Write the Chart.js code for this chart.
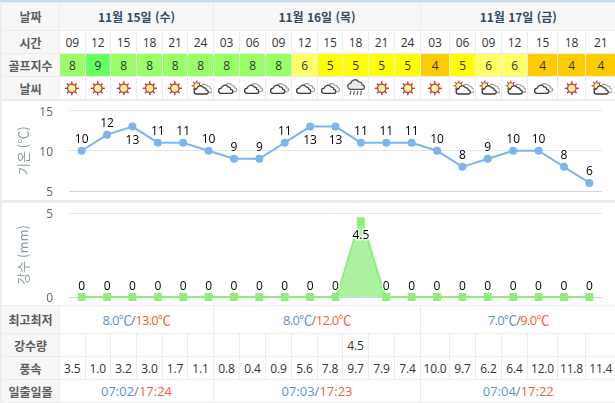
<!DOCTYPE html>
<html lang="ko">
<head>
<meta charset="utf-8">
<title>골프 날씨</title>
<script src="https://cdn.jsdelivr.net/npm/chart.js@4"></script>
<style>
  html, body { margin: 0; padding: 0; }
  body { width: 615px; height: 403px; position: relative; overflow: hidden; background: #ececec;
    font-family: "Open Sans", "Noto Sans CJK KR", sans-serif; }
  #strip { position: absolute; left: 0; top: 0; width: 615px; height: 2px; background: #c8dcee; }
  .cell { position: absolute; background: #fff; display: flex; align-items: center; justify-content: center;
    font-size: 12px; color: #333; white-space: nowrap; letter-spacing: -0.2px; }
  .head { background: #f7f7f7; color: #5c5c5c; font-weight: 700; font-family: "Noto Sans CJK KR", sans-serif; font-size: 12px; letter-spacing: 0; }
  .date { background: #f7f7f7; color: #34495e; font-weight: 700; font-family: "Noto Sans CJK KR", sans-serif; font-size: 12px; letter-spacing: 0; }
  .low { color: #5f8fdb; }
  .high { color: #f4623a; }
  .temp { font-size: 13px; letter-spacing: -0.7px; }
  .sun { font-size: 13px; letter-spacing: 0; }
  .panel { position: absolute; left: 2px; width: 613px; background: #fff; }
  canvas { position: absolute; left: 0; top: 0; }
  svg { display: block; }
</style>
</head>
<body>
<svg width="0" height="0" style="position:absolute">
  <defs>
    <g id="sunBase">
      <g stroke="#c8352b" stroke-width="1.8">
        <line x1="10" y1="1" x2="10" y2="19"/><line x1="1" y1="10" x2="19" y2="10"/>
        <line x1="3.8" y1="3.8" x2="16.2" y2="16.2"/><line x1="16.2" y1="3.8" x2="3.8" y2="16.2"/>
      </g>
      <circle cx="10" cy="10" r="5.4" fill="#fdf1a8" stroke="#c8352b" stroke-width="1.6"/>
    </g>
    <g id="sun"><g transform="translate(3,2.5) scale(.78)"><use href="#sunBase"/></g></g>
    <path id="puff" d="M4 15 a3.2 3.2 0 0 1 0-6.4 a4.6 4.6 0 0 1 8.4-1.6 a3.4 3.4 0 0 1 3.6 3.2 a2.4 2.4 0 0 1 0 4.8 z"/>
    <g id="cloud">
      <g transform="translate(2,2.5) scale(.8)">
        <use href="#puff" x="5" y="-1" fill="#fff" stroke="#999" stroke-width="1.4"/>
        <use href="#puff" x="0" y="1" fill="#fff" stroke="#3a3a3a" stroke-width="1.6"/>
      </g>
    </g>
    <g id="part">
      <g transform="translate(1,2) scale(.58)"><use href="#sunBase"/></g>
      <g transform="translate(3.5,4) scale(.8)">
        <use href="#puff" x="5" y="-2" fill="#fff" stroke="#999" stroke-width="1.4"/>
        <use href="#puff" x="0" y="0" fill="#fff" stroke="#3a3a3a" stroke-width="1.6"/>
      </g>
    </g>
    <g id="rain">
      <g transform="translate(2,0) scale(.95)">
        <use href="#puff" x="0" y="-3" fill="#e9e9e9" stroke="#555" stroke-width="1.4"/>
      </g>
      <g stroke="#666" stroke-width="1.1">
        <line x1="6" y1="13" x2="5" y2="17"/><line x1="9.5" y1="13" x2="8.5" y2="17"/>
        <line x1="13" y1="13" x2="12" y2="17"/><line x1="16.5" y1="13" x2="15.5" y2="17"/>
      </g>
    </g>
  </defs>
</svg>
<div id="strip"></div>
<div class="panel" style="top:101px;height:99px"><canvas id="tempChart"></canvas></div>
<div class="panel" style="top:203px;height:102px"><canvas id="rainChart"></canvas></div>
<script>
"use strict";

// Data ----------------------------------------------------------------------
const dayLabels = ["11월 15일 (수)", "11월 16일 (목)", "11월 17일 (금)"];
const dayLengths = [6, 8, 7];
const hours = ["09","12","15","18","21","24","03","06","09","12","15","18","21","24","03","06","09","12","15","18","21"];
const golfIndex = [8,9,8,8,8,8,8,8,8,6,5,5,5,5,4,5,6,6,4,4,4];
const weather = ["sun","sun","sun","sun","sun","part","cloud","cloud","cloud","cloud","cloud","rain","sun","sun","sun","part","part","part","cloud","sun","part"];
const temps = [10,12,13,11,11,10,9,9,11,13,13,11,11,11,10,8,9,10,10,8,6];
const rainfall = [0,0,0,0,0,0,0,0,0,0,0,4.5,0,0,0,0,0,0,0,0,0];
const windSpeed = ["3.5","1.0","3.2","3.0","1.7","1.1","0.8","0.4","0.9","5.6","7.8","9.7","7.9","7.4","10.0","9.7","6.2","6.4","12.0","11.8","11.4"];
const tempLow = ["8.0℃", "8.0℃", "7.0℃"];
const tempHigh = ["13.0℃", "12.0℃", "9.0℃"];
const sunrise = ["07:02", "07:03", "07:04"];
const sunset = ["17:24", "17:23", "17:22"];
const tempTicks = [5, 10, 15];
const rainTicks = [0, 5];

// Table layout --------------------------------------------------------------
const colEdges = [59,84.5,110,136,162,187,213,239,265,291,317,342,368,394,420,449,475,501,527,557,585,615.5];
const golfColors = { 9: "#66ff66", 8: "#99ff66", 6: "#ffff66", 5: "#ffff00", 4: "#ffcc00" };

function cell(x0, x1, y0, y1, html, cls, bg) {
  const d = document.createElement("div");
  d.className = "cell " + (cls || "");
  d.style.left = x0 + 1 + "px";
  d.style.top = y0 + "px";
  d.style.width = x1 - x0 - 1 + "px";
  d.style.height = y1 - y0 + "px";
  if (bg) d.style.background = bg;
  d.innerHTML = html;
  document.body.appendChild(d);
}

function hourRow(y0, y1, fn) {
  hours.forEach((h, i) => {
    const r = fn(i);
    cell(colEdges[i], colEdges[i + 1], y0, y1, r.html, r.cls, r.bg);
  });
}

function dayRow(y0, y1, fn, cls) {
  let start = 0;
  dayLengths.forEach((len, d) => {
    cell(colEdges[start], colEdges[start + len], y0, y1, fn(d), cls);
    start += len;
  });
}

cell(1, 59, 3, 30, "날짜", "head");
cell(1, 59, 31, 53, "시간", "head");
cell(1, 59, 54, 76, "골프지수", "head");
cell(1, 59, 77, 99, "날씨", "head");
cell(1, 59, 306, 333, "최고최저", "head");
cell(1, 59, 334, 356, "강수량", "head");
cell(1, 59, 357, 379, "풍속", "head");
cell(1, 59, 380, 402, "일출일몰", "head");

dayRow(3, 30, (d) => dayLabels[d], "date");
hourRow(31, 53, (i) => ({ html: hours[i] }));
hourRow(54, 76, (i) => ({ html: golfIndex[i], bg: golfColors[golfIndex[i]] }));
hourRow(77, 99, (i) => ({ html: `<svg width="22" height="20" viewBox="0 0 22 20"><use href="#${weather[i]}"/></svg>` }));
dayRow(306, 333, (d) => `<span class="low">${tempLow[d]}</span><span style="color:#777">/</span><span class="high">${tempHigh[d]}</span>`, "temp");
hourRow(334, 356, (i) => ({ html: rainfall[i] > 0 ? rainfall[i] : "" }));
hourRow(357, 379, (i) => ({ html: windSpeed[i] }));
dayRow(380, 402, (d) => `<span class="low">${sunrise[d]}</span><span style="color:#777">/</span><span class="high">${sunset[d]}</span>`, "sun");

// Charts --------------------------------------------------------------------
const labelFont = '12px "Open Sans", sans-serif';

// value labels with a white halo; below() says which points get theirs underneath
const valueLabels = {
  id: "valueLabels",
  afterDatasetsDraw(chart, args, opts) {
    const { ctx } = chart;
    const points = chart.getDatasetMeta(0).data;
    const values = chart.data.datasets[0].data;
    ctx.save();
    ctx.font = labelFont;
    ctx.textAlign = "center";
    ctx.textBaseline = "middle";
    ctx.lineJoin = "round";
    points.forEach((p, i) => {
      const y = p.y + (opts.below(i, values[i]) ? opts.downBy : -opts.upBy);
      ctx.strokeStyle = "rgba(255,255,255,.85)";
      ctx.lineWidth = 3;
      ctx.strokeText(values[i], p.x, y);
      ctx.fillStyle = "#000";
      ctx.fillText(values[i], p.x, y);
    });
    ctx.restore();
  },
};

function yAxis(title, ticks, min, max) {
  return {
    min,
    max,
    afterFit: (s) => {
      s.width = 67;
      s.paddingTop = 0;
      s.paddingBottom = 0;
    },
    afterBuildTicks: (s) => { s.ticks = ticks.map((value) => ({ value })); },
    border: { display: false },
    grid: {
      drawTicks: false,
      color: (c) => (c.tick.value === min ? "#ccd6eb" : "#e6e6e6"),
    },
    ticks: { padding: 16, labelOffset: 2, color: "#666", font: { size: 12, family: '"Open Sans", sans-serif' } },
    title: { display: true, text: title, color: "#8c9bb3", padding: { top: 13, bottom: 0 },
      font: { size: 13, family: '"Noto Sans CJK KR", sans-serif' } },
  };
}

function baseOptions(y, padTop, padBottom, labels) {
  return {
    responsive: false,
    animation: false,
    layout: { padding: { top: padTop, bottom: padBottom, left: 0, right: 13 } },
    plugins: { legend: { display: false }, tooltip: { enabled: false }, valueLabels: labels },
    scales: {
      x: { display: false, offset: true },
      y,
    },
  };
}

function makeCanvas(id, h) {
  const c = document.getElementById(id);
  c.width = 613;
  c.height = h;
  c.style.width = "613px";
  c.style.height = h + "px";
  return c;
}

new Chart(makeCanvas("tempChart", 99), {
  type: "line",
  data: {
    labels: hours,
    datasets: [{
      data: temps,
      borderColor: "#7cb5ec",
      backgroundColor: "#7cb5ec",
      borderWidth: 2,
      pointRadius: 4,
      pointBackgroundColor: "#7cb5ec",
      pointBorderWidth: 0,
      clip: false,
    }],
  },
  options: baseOptions(yAxis("기온 (℃)", tempTicks, 5, 15), 9.5, 9, {
    below: (i, v) => v === 13,
    downBy: 13.5,
    upBy: 11,
  }),
  plugins: [valueLabels],
});

new Chart(makeCanvas("rainChart", 102), {
  type: "line",
  data: {
    labels: hours,
    datasets: [{
      data: rainfall,
      borderColor: "#90ed7d",
      backgroundColor: "rgba(144,237,125,.75)",
      borderWidth: 2,
      fill: "origin",
      tension: 0.12,
      pointStyle: "rect",
      pointRadius: 5.6,
      pointBackgroundColor: "#90ed7d",
      pointBorderWidth: 0,
      clip: false,
    }],
  },
  options: baseOptions(yAxis("강수 (mm)", rainTicks, 0, 5), 10, 8, {
    below: (i, v) => v > 0,
    downBy: 14,
    upBy: 10.5,
  }),
  plugins: [valueLabels],
});
</script>
</body>
</html>
